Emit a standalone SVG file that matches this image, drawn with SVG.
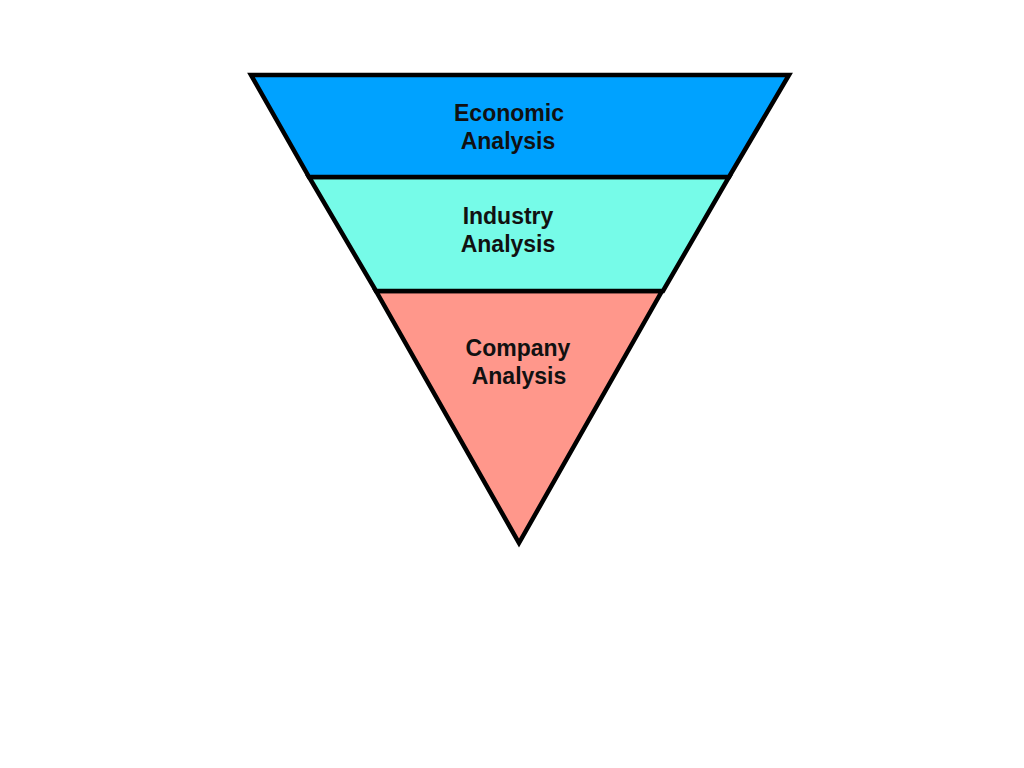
<svg xmlns="http://www.w3.org/2000/svg" width="1024" height="768" viewBox="0 0 1024 768">
<style>
.band{stroke:#000;stroke-width:4.5;stroke-linejoin:miter}
.lbl{font-family:"Liberation Sans",Arial,sans-serif;font-weight:bold;font-size:23px;fill:#111;text-anchor:middle}
</style>
<rect width="1024" height="768" fill="#fff"/>
<g id="company">
<polygon class="band" fill="#FF978B" points="376,291 662,291 519,543"/>
<text class="lbl" x="518" y="356">Company</text>
<text class="lbl" x="519" y="384">Analysis</text>
</g>
<g id="industry">
<polygon class="band" fill="#76FBE8" points="309,177 729,177 663,291 376,291"/>
<text class="lbl" x="508" y="224">Industry</text>
<text class="lbl" x="508" y="252">Analysis</text>
</g>
<g id="economic">
<polygon class="band" fill="#00A2FF" points="251,75 789,75 729,177 309,177"/>
<text class="lbl" x="509" y="121">Economic</text>
<text class="lbl" x="508" y="149">Analysis</text>
</g>
<g id="connectors"/>
</svg>
